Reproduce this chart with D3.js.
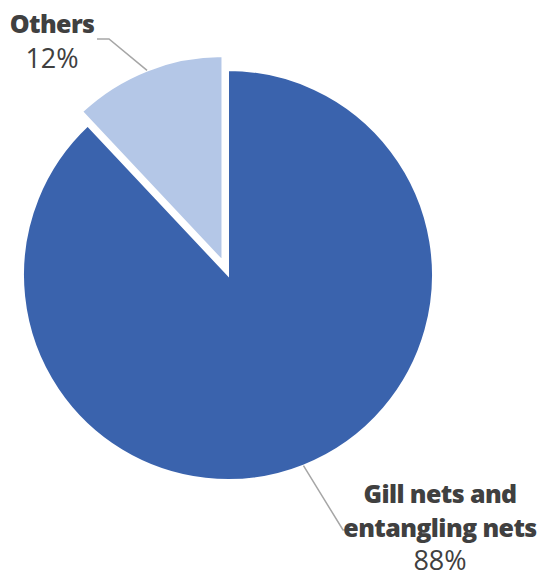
<!DOCTYPE html>
<html>
<head>
<meta charset="utf-8">
<script src="https://cdn.jsdelivr.net/npm/d3@7"></script>
<style>
  html, body { margin: 0; padding: 0; background: #fff; }
  svg text { font-family: "Open Sans", "DejaVu Sans", sans-serif; fill: #404040; }
</style>
</head>
<body>
<svg id="chart" width="538" height="574"></svg>
<script>
// data
const categories = ["Gill nets and entangling nets", "Others"];
const shares = [88, 12];
const labelLines = [["Gill nets and", "entangling nets"], ["Others"]];
const pctLabels = ["88%", "12%"];

const colors = ["#3a63ad", "#b4c7e7"];
const exploded = [0, 15];

const svg = d3.select("#chart");
const cx = 228, cy = 275, radius = 205;

const pie = d3.pie().sort(null).value(d => d);
const arc = d3.arc().innerRadius(0).outerRadius(radius);
const outer = d3.arc().innerRadius(radius).outerRadius(radius);

const g = svg.append("g").attr("transform", `translate(${cx},${cy})`);
const slices = pie(shares);

//shift a point along the slice bisector
function push(d, i, dist){
    let mid = (d.startAngle + d.endAngle) / 2;
    return [Math.sin(mid) * dist, -Math.cos(mid) * dist];
}

g.selectAll("path.slice")
    .data(slices)
    .enter().append("path")
        .attr("class", "slice")
        .attr("d", arc)
        .attr("transform", (d, i) => `translate(${push(d, i, exploded[i])})`)
        .attr("fill", (d, i) => colors[i])
        .attr("stroke", "#fff")
        .attr("stroke-width", 2);

// label anchor positions (page coords)
const labelPos = [
    {x: 440, y: 503, bend: [343, 530], end: [348, 530], anchor: "middle"},
    {x: 52, y: 33, bend: [109, 39], end: [97, 39], anchor: "middle"}
];

slices.forEach((d, i) => {
    let off = push(d, i, exploded[i]);
    let c = outer.centroid(d);
    let start = [cx + c[0] + off[0], cy + c[1] + off[1]];
    let p = labelPos[i];
    svg.append("polyline")
        .attr("points", [start, p.bend, p.end].map(q => q.join(",")).join(" "))
        .attr("fill", "none")
        .attr("stroke", "#a6a6a6")
        .attr("stroke-width", 1.5);

    let t = svg.append("text")
        .attr("text-anchor", p.anchor)
        .attr("font-size", 25);
    labelLines[i].forEach((line, j) => {
        t.append("tspan")
            .attr("x", p.x)
            .attr("y", p.y + j * 34)
            .attr("font-weight", 800)
            .attr("letter-spacing", -0.6)
            .text(line);
    });
    t.append("tspan")
        .attr("x", p.x)
        .attr("y", p.y + labelLines[i].length * 34 + (i == 0 ? -1 : 1))
        .attr("font-size", 27)
        .text(pctLabels[i]);
});
</script>
</body>
</html>
